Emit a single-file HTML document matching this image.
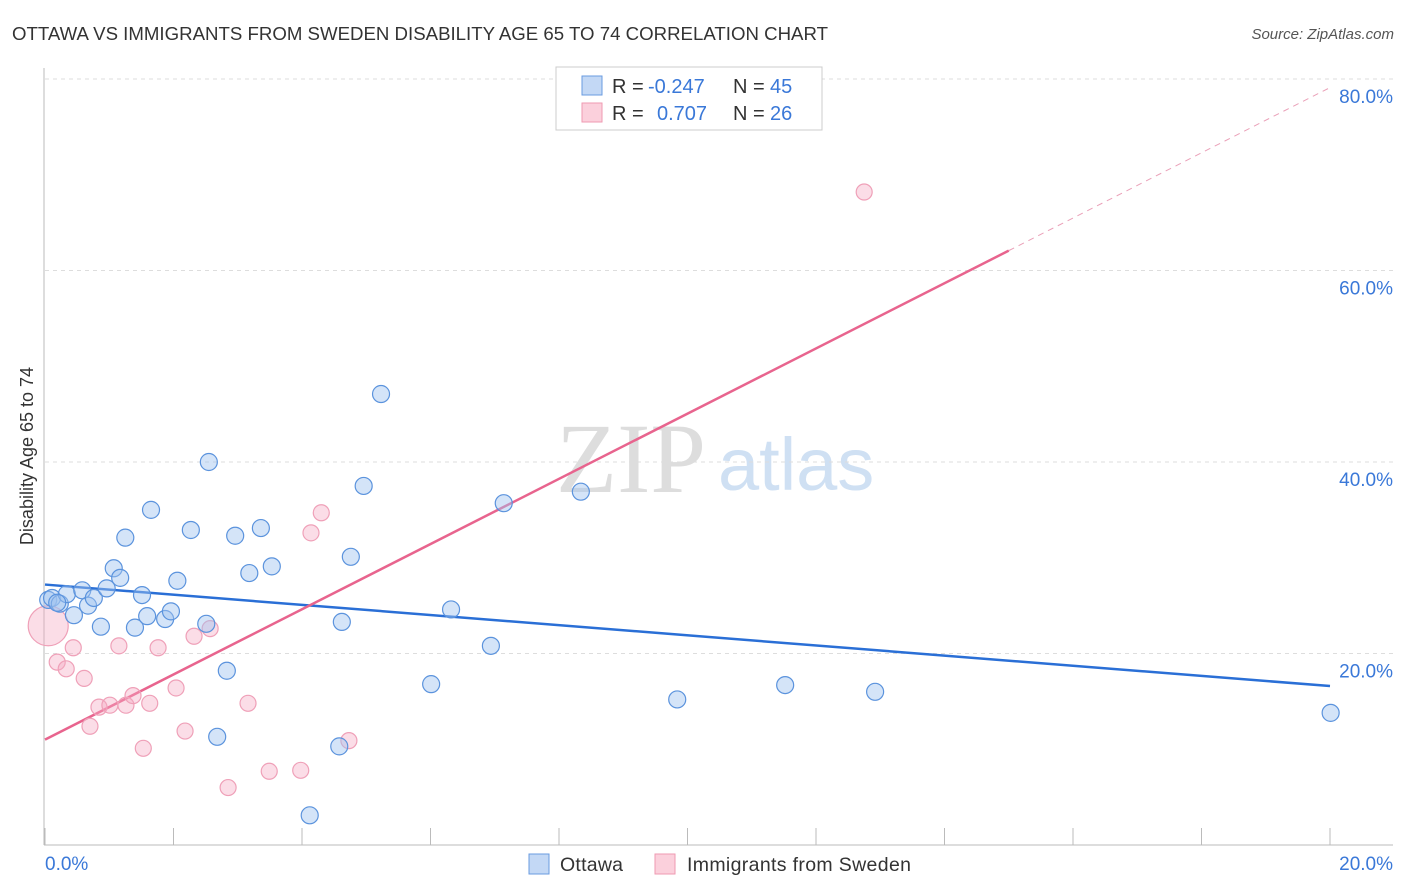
<!DOCTYPE html>
<html><head><meta charset="utf-8"><style>
body{margin:0;background:#fff;font-family:"Liberation Sans",sans-serif}
svg{display:block}
</style></head><body>
<svg id="chart" width="1406" height="892">
<text x="12" y="40" font-size="18" fill="#333" textLength="816" lengthAdjust="spacingAndGlyphs">OTTAWA VS IMMIGRANTS FROM SWEDEN DISABILITY AGE 65 TO 74 CORRELATION CHART</text>
<text x="1394" y="39" font-size="15" fill="#555" font-style="italic" text-anchor="end">Source: ZipAtlas.com</text>
<text x="556" y="492" font-size="100" font-family="Liberation Serif,serif" fill="#ddd">ZIP</text>
<text x="718" y="490" font-size="74" fill="#cfe0f3">atlas</text>
<text transform="translate(33,456) rotate(-90)" font-size="18" fill="#333" text-anchor="middle">Disability Age 65 to 74</text>
<g id="grid"></g><g id="ticks"></g><g id="lines"></g><g id="pts"></g>
<g>
<rect x="556" y="67" width="266" height="63" fill="#fff" stroke="#ccc"/>
<rect x="582" y="76" width="20" height="19" fill="#c3d8f5" stroke="#6a9be0"/>
<rect x="582" y="103" width="20" height="19" fill="#fbd0dc" stroke="#ef9ab2"/>
<text x="612" y="93" font-size="20" fill="#333">R = <tspan x="648" fill="#3a78d8">-0.247</tspan><tspan x="733">N = </tspan><tspan x="770" fill="#3a78d8">45</tspan></text>
<text x="612" y="120" font-size="20" fill="#333">R = <tspan x="657" fill="#3a78d8">0.707</tspan><tspan x="733">N = </tspan><tspan x="770" fill="#3a78d8">26</tspan></text>
</g>
<g>
<rect x="529" y="854" width="20" height="20" fill="#c3d8f5" stroke="#6a9be0"/>
<text x="560" y="871" font-size="19.5" fill="#333" textLength="63">Ottawa</text>
<rect x="655" y="854" width="20" height="20" fill="#fbd0dc" stroke="#ef9ab2"/>
<text x="687" y="871" font-size="19.5" fill="#333" textLength="224">Immigrants from Sweden</text>
</g>
</svg>
<script>
const blueX=[0.05,0.11,0.23,0.34,0.45,0.58,0.67,0.76,0.87,0.96,1.07,1.17,1.25,1.40,1.51,1.59,1.65,1.87,1.96,2.06,2.27,2.51,2.55,2.68,2.83,2.96,3.18,3.36,3.53,4.12,4.58,4.62,4.76,4.96,5.23,6.01,6.32,6.94,7.14,8.34,9.84,11.52,12.92,20.01,0.19];
const blueY=[25.6,25.8,25.2,26.2,24.0,26.6,25.0,25.8,22.8,26.8,28.9,27.9,32.1,22.7,26.1,23.9,35.0,23.6,24.4,27.6,32.9,23.1,40.0,11.3,18.2,32.3,28.4,33.1,29.1,3.1,10.3,23.3,30.1,37.5,47.1,16.8,24.6,20.8,35.7,36.9,15.2,16.7,16.0,13.8,25.3];
const pinkX=[0.05,0.19,0.33,0.44,0.61,0.70,0.84,1.01,1.15,1.26,1.37,1.53,1.63,1.76,2.04,2.18,2.32,2.57,2.85,3.16,3.49,3.98,4.14,4.30,4.73,12.75];
const pinkY=[22.9,19.1,18.4,20.6,17.4,12.4,14.4,14.6,20.8,14.6,15.6,10.1,14.8,20.6,16.4,11.9,21.8,22.6,6.0,14.8,7.7,7.8,32.6,34.7,10.9,68.2];
const blueTrend=[27.2,16.6];
const pinkTrend=[11.0,79.1];
const yTicks=[20,40,60,80];
const xTickLabels=["0.0%","20.0%"];
const NS="http://www.w3.org/2000/svg";
const sx=v=>45+v/20*1285, sy=v=>845-v/20*191.5;
function mk(tag,a,parent){const e=document.createElementNS(NS,tag);for(const k in a)e.setAttribute(k,a[k]);document.getElementById(parent).appendChild(e);return e;}
yTicks.forEach(t=>{
 const g=mk('line',{x1:45,x2:1393,y1:sy(t),y2:sy(t),stroke:'#ddd','stroke-dasharray':'4,4'},'grid');
 
 
 const l=mk('text',{x:1393,y:sy(t)+24,'font-size':19,fill:'#3a78d8','text-anchor':'end'},'grid');
 l.textContent=t.toFixed(1)+'%';
 
 
});
const ax=mk('line',{x1:44,x2:44,y1:68,y2:845,stroke:'#bbb'},'ticks');


const bx=mk('line',{x1:44,x2:1393,y1:845,y2:845,stroke:'#bbb'},'ticks');


for(let i=0;i<=10;i++){const t=mk('line',{x1:sx(i*2),x2:sx(i*2),y1:828,y2:845,stroke:'#bbb'},'ticks');
 
 }
xTickLabels.forEach((s,i)=>{const t=mk('text',{x:i?1393:45,y:870,'font-size':19,fill:'#3a78d8','text-anchor':i?'end':'start'},'ticks');t.textContent=s;
 
 });
const bl=mk('line',{x1:sx(0),y1:sy(blueTrend[0]),x2:sx(20),y2:sy(blueTrend[1]),stroke:'#2a6fd6','stroke-width':2.5},'lines');


const px=15;const pyAt=x=>pinkTrend[0]+(pinkTrend[1]-pinkTrend[0])*x/20;
const pl=mk('line',{x1:sx(0),y1:sy(pyAt(0)),x2:sx(px),y2:sy(pyAt(px)),stroke:'#e8648e','stroke-width':2.5},'lines');


const pd=mk('line',{x1:sx(px),y1:sy(pyAt(px)),x2:sx(20),y2:sy(pyAt(20)),stroke:'#eaa0b8','stroke-width':1,'stroke-dasharray':'6,5'},'lines');


pinkX.forEach((x,i)=>{const c=mk('circle',{cx:sx(x),cy:sy(pinkY[i]),r:i==0?20:8,fill:'rgba(246,170,195,0.4)',stroke:'#efa0b8','stroke-width':1.2},'pts');
 
 });
blueX.forEach((x,i)=>{const c=mk('circle',{cx:sx(x),cy:sy(blueY[i]),r:8.5,fill:'rgba(160,196,240,0.45)',stroke:'#5b93dd','stroke-width':1.2},'pts');
 
 });
</script>
</body></html>
